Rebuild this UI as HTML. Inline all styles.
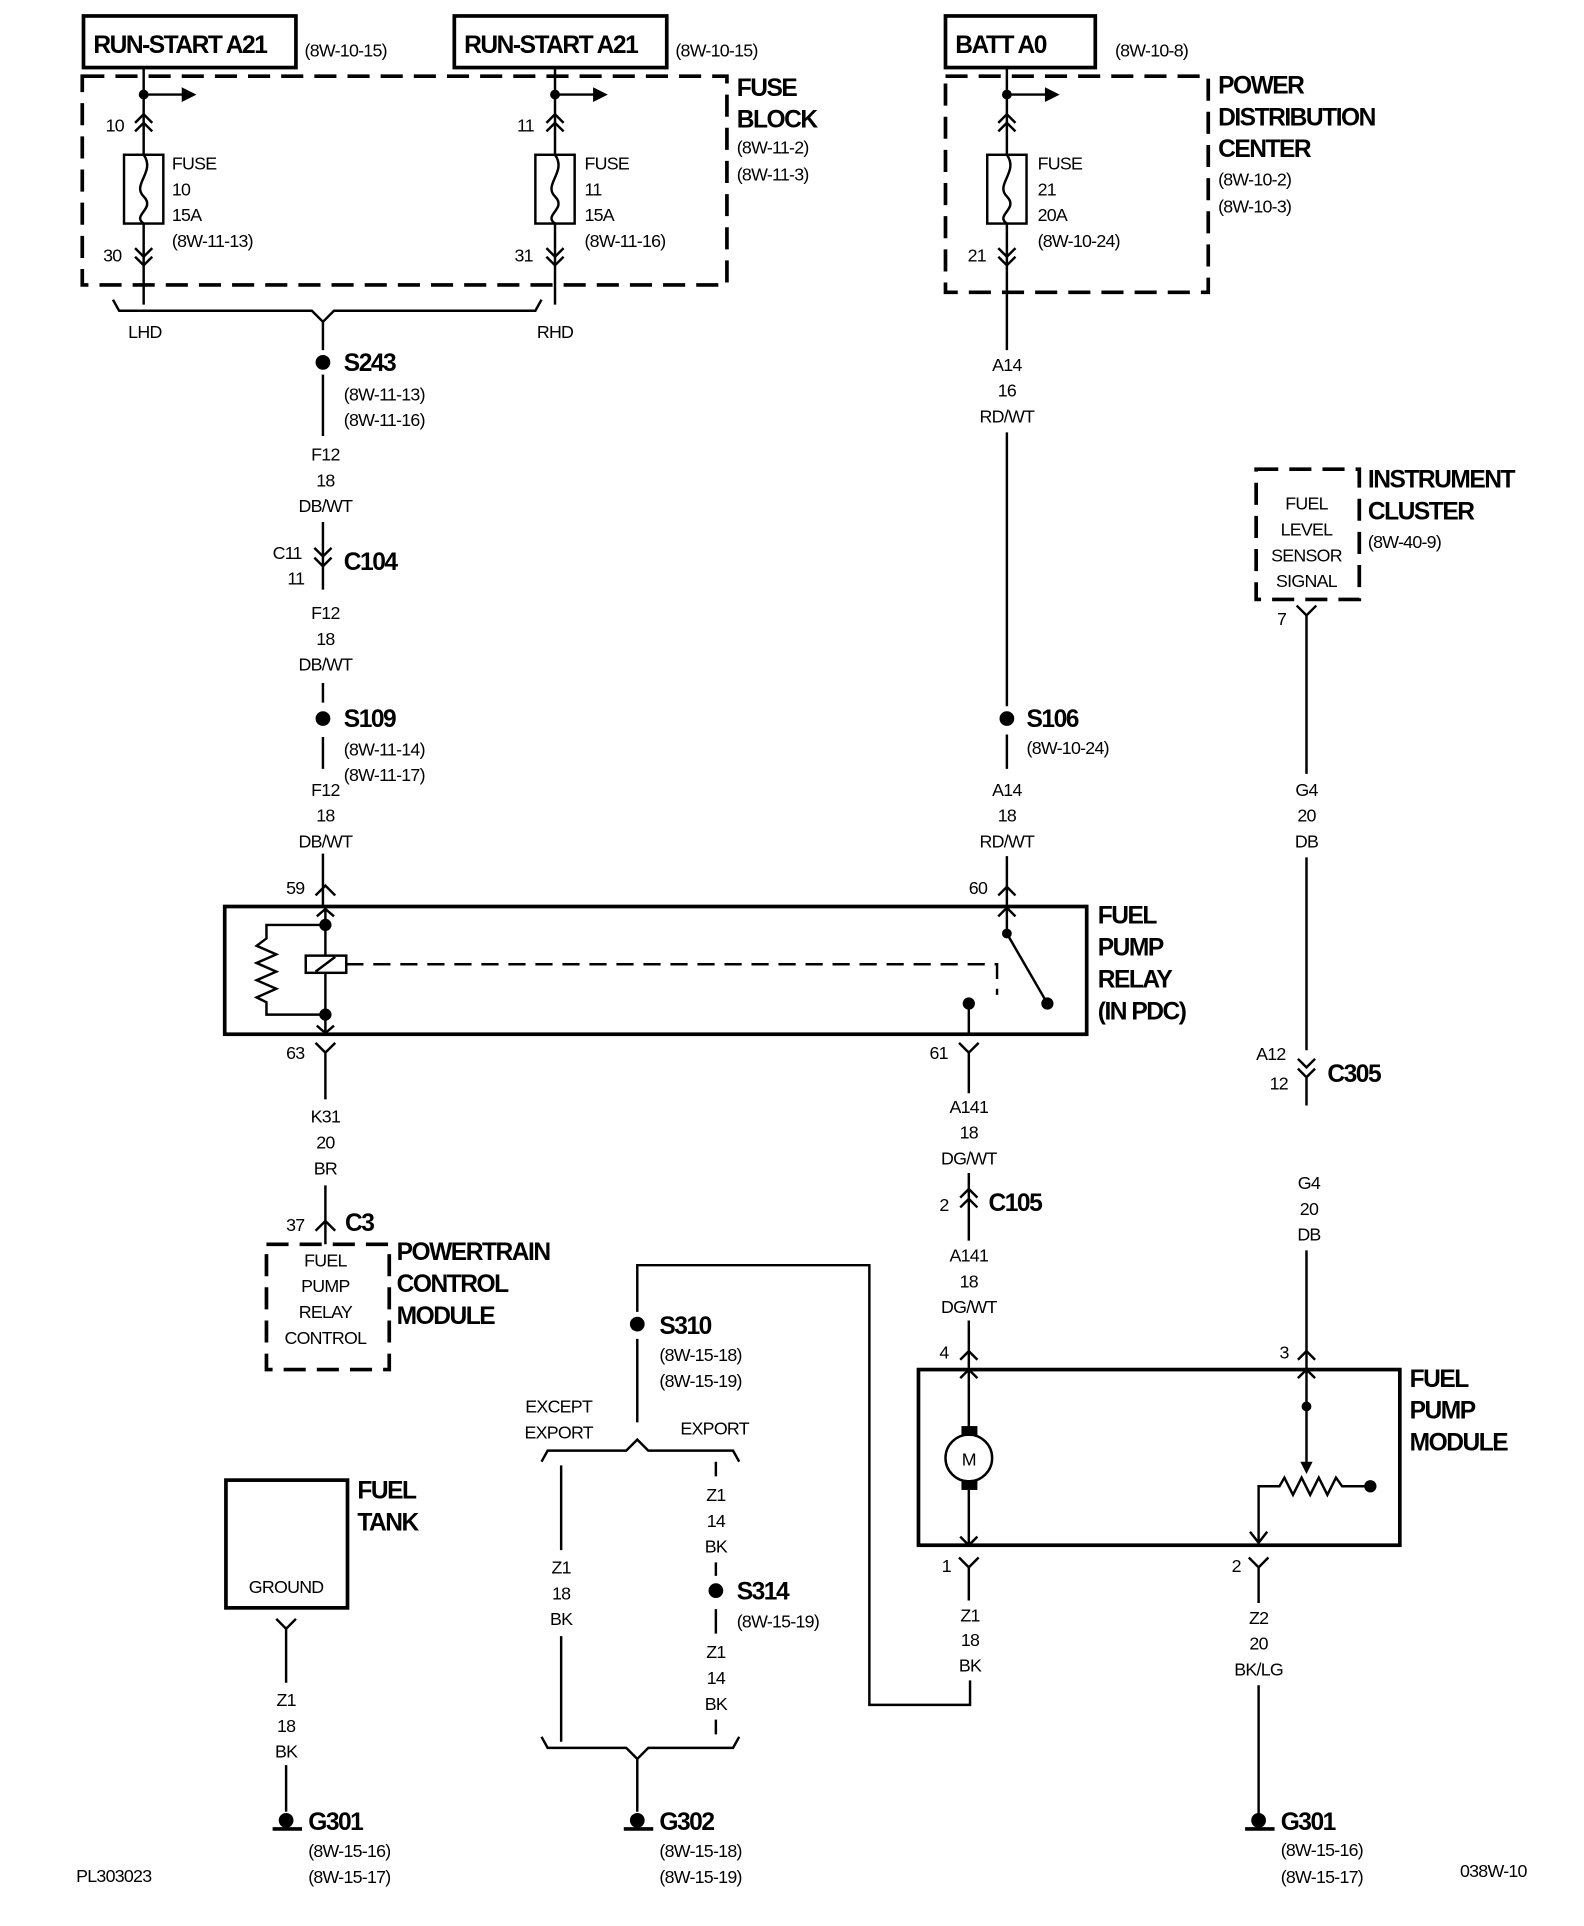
<!DOCTYPE html>
<html><head><meta charset="utf-8"><style>
html,body{margin:0;padding:0;background:#fff}
svg{display:block}
text{font-family:"Liberation Sans Narrow","Liberation Sans",sans-serif;fill:#000}
.b{font-weight:bold;font-size:20px;letter-spacing:-1.2px}
.n{font-size:14.5px;letter-spacing:-0.6px}
.c{text-anchor:middle}
.w{stroke:#000;stroke-width:2;fill:none}
.t{stroke:#000;stroke-width:3;fill:none}
.d{stroke:#000;stroke-width:3;fill:none;stroke-dasharray:18 9}
</style></head><body>
<svg width="1584" height="1926" viewBox="0 0 1290 1568" preserveAspectRatio="none" xmlns="http://www.w3.org/2000/svg">
<rect x="68" y="13" width="173" height="42" class="t"/><text x="76" y="43" class="b">RUN-START A21</text><text x="248" y="46" class="n">(8W-10-15)</text>
<rect x="370" y="13" width="173" height="42" class="t"/><text x="378" y="43" class="b">RUN-START A21</text><text x="550" y="46" class="n">(8W-10-15)</text>
<rect x="770" y="13" width="122" height="42" class="t"/><text x="778" y="43" class="b">BATT A0</text><text x="908" y="46" class="n">(8W-10-8)</text>
<rect x="67" y="62" width="525" height="170" class="d"/>
<text x="600" y="78" class="b">FUSE</text><text x="600" y="104" class="b">BLOCK</text>
<text x="600" y="125" class="n">(8W-11-2)</text><text x="600" y="147" class="n">(8W-11-3)</text>
<g id="f1">
<path d="M117 55V126M117 182V248" class="w"/><circle cx="117" cy="77" r="4"/><path d="M117 77H150" class="w"/><path d="M148 71L160 77L148 83Z"/>
<path d="M110 100L117 93L124 100M110 107L117 100L124 107M110 202L117 209L124 202M110 209L117 216L124 209" class="w"/>
<rect x="101" y="126" width="32" height="56" class="w"/><path d="M117 126C127 140 107 150 117 160C127 170 107 175 117 182" class="w"/>
</g>
<use href="#f1" x="335"/>
<text x="86" y="107" class="n">10</text><text x="84" y="213" class="n">30</text>
<text x="140" y="138" class="n">FUSE</text><text x="140" y="159" class="n">10</text><text x="140" y="180" class="n">15A</text><text x="140" y="201" class="n">(8W-11-13)</text>
<text x="421" y="107" class="n">11</text><text x="419" y="213" class="n">31</text>
<text x="476" y="138" class="n">FUSE</text><text x="476" y="159" class="n">11</text><text x="476" y="180" class="n">15A</text><text x="476" y="201" class="n">(8W-11-16)</text>
<path d="M92 244L97 253H254L263 262L272 253H436L441 244" class="w"/>
<text x="118" y="275" class="n c">LHD</text><text x="452" y="275" class="n c">RHD</text>
<path d="M263 262V285M263 305V355M263 425V440M263 556V572M263 600V626M263 695V738" class="w"/>
<circle cx="263" cy="295" r="6"/><text x="280" y="302" class="b">S243</text>
<text x="280" y="326" class="n">(8W-11-13)</text><text x="280" y="347" class="n">(8W-11-16)</text>
<text x="265" y="375" class="n c">F12</text><text x="265" y="396" class="n c">18</text><text x="265" y="417" class="n c">DB/WT</text>
<path d="M256 446L263 453L270 446M256 454L263 461L270 454M263 440V480" class="w"/>
<text x="222" y="455" class="n">C11</text><text x="234" y="476" class="n">11</text><text x="280" y="464" class="b">C104</text>
<text x="265" y="504" class="n c">F12</text><text x="265" y="525" class="n c">18</text><text x="265" y="546" class="n c">DB/WT</text>
<circle cx="263" cy="585" r="6"/><text x="280" y="592" class="b">S109</text>
<text x="280" y="615" class="n">(8W-11-14)</text><text x="280" y="636" class="n">(8W-11-17)</text>
<text x="265" y="648" class="n c">F12</text><text x="265" y="669" class="n c">18</text><text x="265" y="690" class="n c">DB/WT</text>
<text x="233" y="728" class="n">59</text><path d="M257 729L265 721L273 729" class="w"/>
<rect x="183" y="738" width="702" height="104" class="t"/>
<text x="894" y="752" class="b">FUEL</text><text x="894" y="778" class="b">PUMP</text><text x="894" y="804" class="b">RELAY</text><text x="894" y="830" class="b">(IN PDC)</text>
<path d="M265 738V778M265 792V842M258 746L265 740L272 746M258 835L265 841L272 835" class="w"/>
<circle cx="265" cy="753" r="5"/><circle cx="265" cy="826" r="5"/>
<rect x="249" y="778" width="33" height="14" class="w"/><path d="M257 791L273 779" class="w"/>
<path d="M265 753H217V764L209 770L225 777L209 784L225 791L209 798L225 805L209 812L217 816V826H265" class="w"/>
<path d="M282 785H812V810" fill="none" stroke="#000" stroke-width="2" stroke-dasharray="14 8"/>
<path d="M820 722V760L853 817M813 729L820 722L827 729M813 746L820 739L827 746M789 817V842" class="w"/>
<circle cx="820" cy="760" r="4"/><circle cx="853" cy="817" r="5"/><circle cx="789" cy="817" r="5"/>
<text x="233" y="862" class="n">63</text><path d="M257 849L265 857L273 849M265 857V895" class="w"/>
<text x="265" y="914" class="n c">K31</text><text x="265" y="935" class="n c">20</text><text x="265" y="956" class="n c">BR</text>
<text x="233" y="1002" class="n">37</text><path d="M265 965V1013M257 1002L265 994L273 1002" class="w"/><text x="281" y="1002" class="b">C3</text>
<rect x="217" y="1013" width="100" height="102" class="d"/>
<text x="265" y="1031" class="n c">FUEL</text><text x="265" y="1052" class="n c">PUMP</text><text x="265" y="1073" class="n c">RELAY</text><text x="265" y="1094" class="n c">CONTROL</text>
<text x="323" y="1026" class="b">POWERTRAIN</text><text x="323" y="1052" class="b">CONTROL</text><text x="323" y="1078" class="b">MODULE</text>
<rect x="770" y="62" width="214" height="176" class="d"/>
<text x="992" y="76" class="b">POWER</text><text x="992" y="102" class="b">DISTRIBUTION</text><text x="992" y="128" class="b">CENTER</text>
<text x="992" y="151" class="n">(8W-10-2)</text><text x="992" y="173" class="n">(8W-10-3)</text>
<path d="M820 55V126M820 182V285" class="w"/><circle cx="820" cy="77" r="4"/><path d="M820 77H853" class="w"/><path d="M851 71L863 77L851 83Z"/>
<path d="M813 100L820 93L827 100M813 107L820 100L827 107M813 202L820 209L827 202M813 209L820 216L827 209" class="w"/>
<rect x="804" y="126" width="32" height="56" class="w"/><path d="M820 126C830 140 810 150 820 160C830 170 810 175 820 182" class="w"/>
<text x="845" y="138" class="n">FUSE</text><text x="845" y="159" class="n">21</text><text x="845" y="180" class="n">20A</text><text x="845" y="201" class="n">(8W-10-24)</text>
<text x="788" y="213" class="n">21</text>
<text x="820" y="302" class="n c">A14</text><text x="820" y="323" class="n c">16</text><text x="820" y="344" class="n c">RD/WT</text>
<path d="M820 352V575M820 598V626M820 697V722" class="w"/>
<circle cx="820" cy="585" r="6"/><text x="836" y="592" class="b">S106</text><text x="836" y="614" class="n">(8W-10-24)</text>
<text x="820" y="648" class="n c">A14</text><text x="820" y="669" class="n c">18</text><text x="820" y="690" class="n c">RD/WT</text>
<text x="789" y="728" class="n">60</text>
<text x="757" y="862" class="n">61</text><path d="M781 849L789 857L797 849M789 857V890" class="w"/>
<text x="789" y="906" class="n c">A141</text><text x="789" y="927" class="n c">18</text><text x="789" y="948" class="n c">DG/WT</text>
<path d="M789 955V1010M782 975L789 968L796 975M782 983L789 976L796 983" class="w"/>
<text x="765" y="986" class="n">2</text><text x="805" y="986" class="b">C105</text>
<text x="789" y="1027" class="n c">A141</text><text x="789" y="1048" class="n c">18</text><text x="789" y="1069" class="n c">DG/WT</text>
<text x="765" y="1106" class="n">4</text><path d="M789 1075V1167M789 1208V1258M782 1107L789 1100L796 1107M782 1122L789 1115L796 1122M782 1251L789 1258L796 1251" class="w"/>
<rect x="748" y="1115" width="392" height="143" class="t"/>
<text x="1148" y="1129" class="b">FUEL</text><text x="1148" y="1155" class="b">PUMP</text><text x="1148" y="1181" class="b">MODULE</text>
<rect x="783" y="1161" width="13" height="8"/><rect x="783" y="1205" width="13" height="8"/>
<circle cx="789" cy="1187" r="19" class="w"/><text x="789" y="1193" class="n c">M</text>
<text x="1042" y="1106" class="n">3</text><path d="M1064 1100V1195M1057 1107L1064 1100L1071 1107M1057 1122L1064 1115L1071 1122" class="w"/>
<circle cx="1064" cy="1145" r="4"/><path d="M1059 1190L1064 1200L1069 1190Z"/>
<path d="M1025 1255V1210H1042L1046 1203L1053 1217L1060 1203L1067 1217L1074 1203L1081 1217L1088 1203L1093 1210H1116" class="w"/>
<circle cx="1116" cy="1210" r="5"/><path d="M1018 1247L1025 1256L1032 1247" class="w"/>
<text x="767" y="1280" class="n">1</text><path d="M781 1268L789 1276L797 1268M789 1276V1303" class="w"/>
<text x="1003" y="1280" class="n">2</text><path d="M1017 1268L1025 1276L1033 1268M1025 1276V1305" class="w"/>
<text x="790" y="1320" class="n c">Z1</text><text x="790" y="1340" class="n c">18</text><text x="790" y="1361" class="n c">BK</text>
<path d="M790 1368V1388H708V1030H519V1068" class="w"/>
<text x="1025" y="1322" class="n c">Z2</text><text x="1025" y="1343" class="n c">20</text><text x="1025" y="1364" class="n c">BK/LG</text>
<path d="M1025 1372V1478" class="w"/>
<rect x="1023" y="382" width="84" height="106" class="d"/>
<text x="1064" y="415" class="n c">FUEL</text><text x="1064" y="436" class="n c">LEVEL</text><text x="1064" y="457" class="n c">SENSOR</text><text x="1064" y="478" class="n c">SIGNAL</text>
<text x="1114" y="397" class="b">INSTRUMENT</text><text x="1114" y="423" class="b">CLUSTER</text><text x="1114" y="446" class="n">(8W-40-9)</text>
<text x="1040" y="509" class="n">7</text><path d="M1056 493L1064 501L1072 493M1064 501V630M1064 698V855" class="w"/>
<text x="1064" y="648" class="n c">G4</text><text x="1064" y="669" class="n c">20</text><text x="1064" y="690" class="n c">DB</text>
<path d="M1057 862L1064 869L1071 862M1057 870L1064 877L1071 870M1064 877V900" class="w"/>
<text x="1023" y="863" class="n">A12</text><text x="1034" y="887" class="n">12</text><text x="1081" y="881" class="b">C305</text>
<text x="1066" y="968" class="n c">G4</text><text x="1066" y="989" class="n c">20</text><text x="1066" y="1010" class="n c">DB</text>
<path d="M1064 1018V1100" class="w"/>
<circle cx="519" cy="1078" r="6"/><text x="537" y="1086" class="b">S310</text>
<text x="537" y="1108" class="n">(8W-15-18)</text><text x="537" y="1129" class="n">(8W-15-19)</text>
<path d="M519 1090V1158" class="w"/>
<text x="455" y="1150" class="n c">EXCEPT</text><text x="455" y="1171" class="n c">EXPORT</text><text x="582" y="1168" class="n c">EXPORT</text>
<path d="M441 1190L446 1181H510L519 1172L528 1181H597L602 1190" class="w"/>
<path d="M457 1193V1262M457 1332V1418M583 1190V1202M583 1272V1283M583 1310V1330M583 1400V1412" class="w"/>
<text x="457" y="1281" class="n c">Z1</text><text x="457" y="1302" class="n c">18</text><text x="457" y="1323" class="n c">BK</text>
<text x="583" y="1222" class="n c">Z1</text><text x="583" y="1243" class="n c">14</text><text x="583" y="1264" class="n c">BK</text>
<circle cx="583" cy="1295" r="6"/><text x="600" y="1302" class="b">S314</text><text x="600" y="1325" class="n">(8W-15-19)</text>
<text x="583" y="1350" class="n c">Z1</text><text x="583" y="1371" class="n c">14</text><text x="583" y="1392" class="n c">BK</text>
<path d="M441 1414L446 1423H510L519 1432L528 1423H597L602 1414M519 1432V1475" class="w"/>
<rect x="184" y="1205" width="99" height="104" class="t"/><text x="233" y="1297" class="n c">GROUND</text>
<text x="291" y="1220" class="b">FUEL</text><text x="291" y="1246" class="b">TANK</text>
<path d="M225 1318L233 1326L241 1318M233 1326V1370M233 1437V1475" class="w"/>
<text x="233" y="1389" class="n c">Z1</text><text x="233" y="1410" class="n c">18</text><text x="233" y="1431" class="n c">BK</text>
<g id="g"><circle cx="233" cy="1482" r="6"/><path d="M222 1489H246" stroke="#000" stroke-width="3"/></g>
<use href="#g" x="286"/><use href="#g" x="792"/>
<text x="251" y="1490" class="b">G301</text><text x="251" y="1512" class="n">(8W-15-16)</text><text x="251" y="1533" class="n">(8W-15-17)</text>
<text x="537" y="1490" class="b">G302</text><text x="537" y="1512" class="n">(8W-15-18)</text><text x="537" y="1533" class="n">(8W-15-19)</text>
<text x="1043" y="1490" class="b">G301</text><text x="1043" y="1511" class="n">(8W-15-16)</text><text x="1043" y="1533" class="n">(8W-15-17)</text>
<text x="62" y="1532" class="n">PL303023</text><text x="1189" y="1528" class="n">038W-10</text>
</svg>
</body></html>
